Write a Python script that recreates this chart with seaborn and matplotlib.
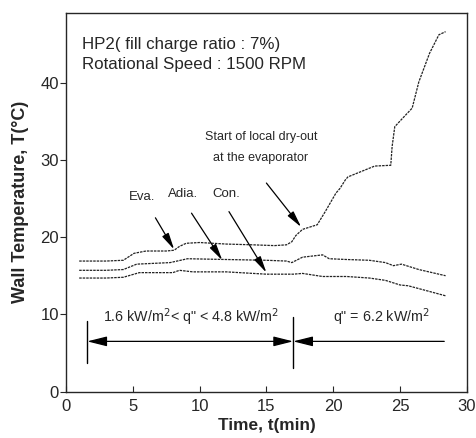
import numpy as np
import pandas as pd
import matplotlib
matplotlib.use("Agg")
import matplotlib.pyplot as plt
import seaborn as sns

# Wall temperature readings (time in min, temperature in degC)
eva_t = [1.0, 3.0, 4.3, 5.1, 6.0, 7.5, 8.1, 8.5, 9.0, 10.0, 12.0, 14.0, 15.6, 16.5,
         16.9, 17.2, 17.7, 18.8, 19.4, 20.2, 20.5, 20.9, 21.1, 22.1, 23.1, 24.3,
         24.4, 24.6, 25.3, 25.9, 26.4, 27.2, 27.9, 28.4]
eva_T = [16.9, 16.9, 17.0, 17.9, 18.2, 18.2, 18.3, 18.8, 19.2, 19.3, 19.1, 19.0, 18.9, 19.0,
         19.4, 20.2, 21.0, 21.6, 23.3, 25.7, 26.3, 27.4, 27.8, 28.5, 29.2, 29.3,
         31.7, 34.3, 35.6, 36.7, 40.1, 43.8, 46.2, 46.6]

adia_t = [1.0, 3.0, 4.3, 5.3, 7.8, 9.1, 12.0, 15.0, 16.5, 16.9, 17.7, 19.2, 19.7,
          21.0, 22.7, 23.9, 24.5, 25.1, 26.4, 28.4]
adia_T = [15.7, 15.7, 15.8, 16.5, 16.7, 17.2, 17.1, 17.0, 16.9, 16.7, 17.4, 17.7, 17.2,
          17.1, 17.0, 16.7, 16.3, 16.5, 15.8, 15.0]

con_t = [1.0, 3.0, 4.3, 5.5, 8.0, 8.5, 9.5, 12.0, 15.0, 17.0, 17.7, 19.2, 21.0,
         22.7, 23.9, 25.0, 25.6, 26.9, 28.4]
con_T = [14.7, 14.7, 14.8, 15.4, 15.4, 15.7, 15.5, 15.5, 15.2, 15.2, 15.3, 14.9, 14.9,
         14.7, 14.4, 13.8, 13.7, 13.1, 12.4]

# heat flux periods
q_start, q_switch, q_end = 1.6, 17.0, 28.3
q_level = 6.5

sns.set_style("ticks")
plt.rcParams['font.family'] = ['Liberation Sans', 'DejaVu Sans']

fig, ax = plt.subplots(figsize=(4.77, 4.38), dpi=100)
fig.subplots_adjust(left=0.138, right=0.979, bottom=0.106, top=0.970)

ls = (0, (2.0, 0.8))
for t, T in [(eva_t, eva_T), (adia_t, adia_T), (con_t, con_T)]:
    df = pd.DataFrame({"t": t, "T": T})
    sns.lineplot(data=df, x="t", y="T", ax=ax, color="#222222", lw=0.9,
                 linestyle=ls, estimator=None, sort=False)

ax.set_xlim(0, 30)
ax.set_ylim(0, 49)
ax.set_xticks([0, 5, 10, 15, 20, 25, 30])
ax.set_yticks([0, 10, 20, 30, 40])
ax.tick_params(axis="x", direction="in", length=4, labelsize=12, pad=5)
ax.tick_params(axis="y", direction="out", length=4, labelsize=12, pad=1)
for s in ax.spines.values():
    s.set_visible(True)
    s.set_linewidth(1.0)
ax.set_xlabel("Time, t(min)", fontsize=12.4, fontweight="bold", labelpad=3)
ax.set_ylabel("Wall Temperature, T(\u00b0C)", fontsize=13, fontweight="bold", labelpad=8)

ax.text(1.2, 44.9, "HP2( fill charge ratio : 7%)", fontsize=12.2, va="center")
ax.text(1.2, 42.4, "Rotational Speed : 1500 RPM", fontsize=12.2, va="center")

arr = dict(arrowstyle="-|>,head_length=1.0,head_width=0.22", color="black",
           lw=0.9, shrinkA=0, shrinkB=0)
ax.text(5.7, 25.2, "Eva.", fontsize=9.5, ha="center", va="center")
ax.annotate("", xy=(8.1, 18.4), xytext=(6.7, 22.5), arrowprops=arr)
ax.text(8.8, 25.6, "Adia.", fontsize=9.5, ha="center", va="center")
ax.annotate("", xy=(11.7, 17.0), xytext=(9.4, 23.1), arrowprops=arr)
ax.text(12.0, 25.6, "Con.", fontsize=9.5, ha="center", va="center")
ax.annotate("", xy=(15.0, 15.4), xytext=(12.2, 23.3), arrowprops=arr)
ax.text(14.6, 32.9, "Start of local dry-out", fontsize=9, ha="center", va="center")
ax.text(14.6, 30.3, "at the evaporator", fontsize=9, ha="center", va="center")
ax.annotate("", xy=(17.6, 21.3), xytext=(15.0, 27.0), arrowprops=arr)

# heat flux brackets
harr = dict(arrowstyle="<|-|>,head_length=1.2,head_width=0.3", color="black",
            lw=0.9, shrinkA=0, shrinkB=0)
ax.annotate("", xy=(q_switch, q_level), xytext=(q_start, q_level), arrowprops=harr)
sarr = dict(arrowstyle="-|>,head_length=1.2,head_width=0.3", color="black",
            lw=0.9, shrinkA=0, shrinkB=0)
ax.annotate("", xy=(q_switch, q_level), xytext=(q_end, q_level), arrowprops=sarr)
ax.plot([q_start, q_start], [3.7, 9.2], color="black", lw=1.0)
ax.plot([q_switch, q_switch], [3.1, 9.7], color="black", lw=1.0)
ax.text(9.4, 9.6, "1.6 kW/m$^2$< q\" < 4.8 kW/m$^2$", fontsize=10.3, ha="center", va="center")
ax.text(23.6, 9.6, "q\" = 6.2 kW/m$^2$", fontsize=10.3, ha="center", va="center")

fig.savefig("out.png", dpi=100)
